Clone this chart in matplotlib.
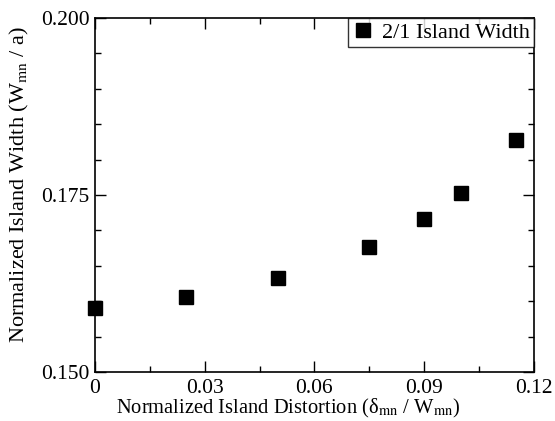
import numpy as np
import matplotlib
matplotlib.use("Agg")
import matplotlib.pyplot as plt
from matplotlib.ticker import MultipleLocator

plt.rcParams['font.family'] = ['Liberation Serif', 'DejaVu Serif']
plt.rcParams['mathtext.fontset'] = 'stix'

# datos
distortion = [0.0, 0.025, 0.05, 0.075, 0.09, 0.10, 0.115]
width = [0.1590, 0.1606, 0.1633, 0.1677, 0.1716, 0.1753, 0.1828]
series_label = "2/1 Island Width"

fig = plt.figure(figsize=(5.55, 4.21), dpi=100)
ax = fig.add_axes([0.171, 0.1164, 0.791, 0.8408])

ax.plot(distortion, width, linestyle='none', marker='s', markersize=10,
        color='black', label=series_label, clip_on=False)

ax.set_xlim(0, 0.12)
ax.set_ylim(0.150, 0.200)
ax.xaxis.set_major_locator(MultipleLocator(0.03))
ax.xaxis.set_minor_locator(MultipleLocator(0.015))
ax.yaxis.set_major_locator(MultipleLocator(0.025))
ax.yaxis.set_minor_locator(MultipleLocator(0.005))
ax.set_xticks([0, 0.03, 0.06, 0.09, 0.12])
ax.set_xticklabels(["0", "0.03", "0.06", "0.09", "0.12"])
ax.set_yticks([0.150, 0.175, 0.200])
ax.set_yticklabels(["0.150", "0.175", "0.200"])

ax.tick_params(which='both', direction='in', top=True, right=True,
               labelsize=15.5, width=1)
ax.tick_params(axis='x', pad=5)
ax.tick_params(axis='y', pad=4)
ax.tick_params(which='major', length=8)
ax.tick_params(which='minor', length=4)
for s in ax.spines.values():
    s.set_linewidth(1.2)

ax.set_xlabel("Normalized Island Distortion (δ$_{\\mathrm{mn}}$ / W$_{\\mathrm{mn}}$)",
              fontsize=14.8)
ax.set_ylabel("Normalized Island Width (W$_{\\mathrm{mn}}$ / a)",
              fontsize=16, va='center')
# las etiquetas no estan centradas en el original
ax.xaxis.set_label_coords(0.44, -0.07)
ax.yaxis.set_label_coords(-0.171, 0.53)

leg = ax.legend(loc='upper right', fontsize=16, frameon=True, fancybox=False,
                borderaxespad=0, handletextpad=0.4, borderpad=0.2,
                handlelength=0.9, markerscale=0.95)
leg.get_frame().set_edgecolor('black')
leg.get_frame().set_linewidth(1)

plt.savefig("out.png", dpi=100)
